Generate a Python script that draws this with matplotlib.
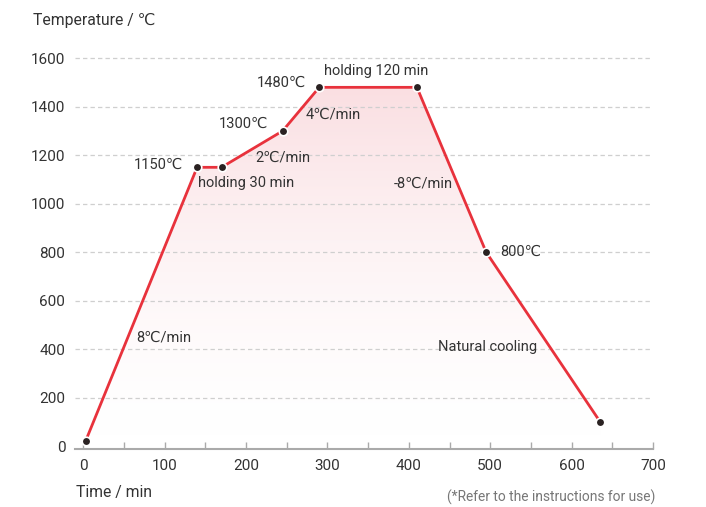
import numpy as np
import matplotlib
matplotlib.use('Agg')
import matplotlib.pyplot as plt
from matplotlib.colors import LinearSegmentedColormap
from matplotlib.patches import Polygon

plt.rcParams['font.family'] = ['Roboto', 'DejaVu Sans']

# Firing curve points (time in min, temperature in C)
time = [3, 140, 170, 245, 290, 410, 495, 635]
temp = [20, 1150, 1150, 1300, 1480, 1480, 800, 100]

x_ticks = [0, 100, 200, 300, 400, 500, 600, 700]
y_ticks = [0, 200, 400, 600, 800, 1000, 1200, 1400, 1600]

# annotations: text, x, y, horizontal alignment
labels = [
    ('1150℃', 123, 1160, 'right'),
    ('holding 30 min', 141, 1085, 'left'),
    ('2℃/min', 212, 1192, 'left'),
    ('1300℃', 227, 1328, 'right'),
    ('4℃/min', 273, 1369, 'left'),
    ('1480℃', 274, 1497, 'right'),
    ('holding 120 min', 296, 1546, 'left'),
    ('-8℃/min', 382, 1085, 'left'),
    ('800℃', 512, 800, 'left'),
    ('Natural cooling', 436, 408, 'left'),
    ('8℃/min', 65, 449, 'left'),
]

text_col = '#333333'
red = '#e8323c'

fig = plt.figure(figsize=(7.06, 5.07), dpi=100)
ax = fig.add_axes([0.1062, 0.1145, 0.8188, 0.7945])

# gradient fill under the curve (fades faster near the bottom)
cmap = LinearSegmentedColormap.from_list('pinkfade', ['#ffffff', '#fadfe2'])
grad = (np.linspace(0, 1, 256) ** 1.6).reshape(-1, 1)
im = ax.imshow(grad, cmap=cmap, origin='lower', aspect='auto', vmin=0, vmax=1,
               extent=[min(time), max(time), 0, max(temp)], zorder=1)
poly = Polygon(list(zip(time, temp)) + [(time[-1], 0), (time[0], 0)],
               closed=True, facecolor='none', edgecolor='none')
ax.add_patch(poly)
im.set_clip_path(poly)

ax.plot(time, temp, color=red, lw=2, zorder=3)
ax.scatter(time, temp, s=38, color='#2a2222', edgecolor='white', linewidth=1.2, zorder=4)

for txt, x, y, ha in labels:
    ax.text(x, y, txt, ha=ha, va='center', fontsize=10.5, color=text_col, zorder=5)

ax.set_xlim(-10, 700)
ax.set_ylim(-12, 1650)
ax.set_xticks(x_ticks)
ax.set_xticks(np.arange(50, 700, 100), minor=True)
ax.set_yticks(y_ticks)
ax.tick_params(axis='x', direction='in', length=5, width=1, color='#aaaaaa',
               labelsize=11, labelcolor=text_col, pad=7)
ax.tick_params(axis='x', which='minor', direction='in', length=5, width=1, color='#aaaaaa')
ax.tick_params(axis='y', length=0, labelsize=11, labelcolor=text_col, pad=7)

for y in y_ticks[1:]:
    ax.axhline(y, color='#cfcfcf', lw=0.9, ls=(0, (3.5, 2.5)), zorder=2)

for s in ['top', 'right', 'left']:
    ax.spines[s].set_visible(False)
ax.spines['bottom'].set_color('#aaaaaa')
ax.spines['bottom'].set_linewidth(1.5)

fig.text(33 / 706, 1 - 20 / 507, 'Temperature / ℃', fontsize=11.3, color=text_col, va='center')
fig.text(76 / 706, 1 - 492 / 507, 'Time / min', fontsize=11.3, color=text_col, va='center')
fig.text(655 / 706, 1 - 497 / 507, '(*Refer to the instructions for use)', fontsize=9.9,
         color='#777777', ha='right', va='center')

fig.savefig('out.png', dpi=100)
